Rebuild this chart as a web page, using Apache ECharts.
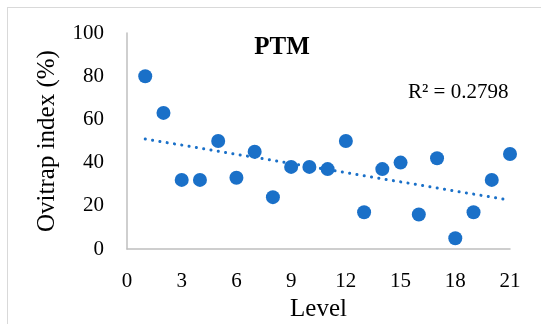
<!DOCTYPE html>
<html><head><meta charset="utf-8">
<script src="https://cdn.jsdelivr.net/npm/echarts@6/dist/echarts.min.js"></script>
<style>
html,body{margin:0;padding:0;background:#fff;}
#frame{position:absolute;left:7px;top:7px;width:560px;height:340px;border:1px solid #d9d9d9;box-sizing:border-box;}
#c{position:absolute;left:0;top:0;width:541px;height:324px;}
</style></head>
<body>
<div id="frame"></div>
<div id="c"></div>
<script>
const levels = [1,2,3,4,5,6,7,8,9,10,11,12,13,14,15,16,17,18,19,20,21];
const ovitrap = [80,63,32,32,50,33,45,24,38,38,37,50,17,37,40,16,42,5,17,32,44];
const xTicks = [0,3,6,9,12,15,18,21];
const yTicks = [0,20,40,60,80,100];
const titleText = 'PTM';
const r2Text = 'R² = 0.2798';

const n = levels.length;
const mx = levels.reduce((a,b)=>a+b,0)/n;
const my = ovitrap.reduce((a,b)=>a+b,0)/n;
let sxy=0,sxx=0;
for(let i=0;i<n;i++){sxy+=(levels[i]-mx)*(ovitrap[i]-my);sxx+=(levels[i]-mx)**2;}
const slope=sxy/sxx, icpt=my-slope*mx;
const x0=levels[0], x1=levels[n-1];
const trend=[[x0,icpt+slope*x0],[x1,icpt+slope*x1]];

const serif = '"Liberation Serif",serif';
const chart = echarts.init(document.getElementById('c'));
chart.setOption({
  animation:false,
  backgroundColor:'transparent',
  grid:{left:127,right:31,top:33,bottom:75,containLabel:false,outerBoundsMode:'none'},
  title:{text:titleText,left:277,top:30,textAlign:'center',
    textStyle:{fontFamily:serif,fontWeight:'bold',fontSize:25,color:'#000'}},
  graphic:[{type:'text',left:408,top:82,style:{text:r2Text,font:'21px "Liberation Serif", serif',fill:'#000'}}],
  xAxis:{type:'value',min:0,max:21,interval:3,
    name:'Level',nameLocation:'middle',nameGap:44,
    nameTextStyle:{fontFamily:serif,fontSize:25,color:'#000'},
    axisLine:{show:true,lineStyle:{color:'#bfbfbf',width:1.5}},
    axisTick:{show:false},splitLine:{show:false},
    axisLabel:{fontFamily:serif,fontSize:21,color:'#000',margin:22,
      formatter:v=>xTicks.includes(v)?String(v):''}},
  yAxis:{type:'value',min:0,max:100,interval:20,
    name:'Ovitrap index (%)',nameLocation:'middle',nameGap:67,
    nameTextStyle:{fontFamily:serif,fontSize:25,color:'#000'},
    axisLine:{show:true,lineStyle:{color:'#bfbfbf',width:1.5}},
    axisTick:{show:false},splitLine:{show:false},
    axisLabel:{fontFamily:serif,fontSize:21,color:'#000',margin:23,
      formatter:v=>yTicks.includes(v)?String(v):''}},
  series:[
    {type:'line',data:trend,symbol:'none',silent:true,
      lineStyle:{color:'#1a70c8',width:3,type:[0.1,7.3],cap:'round'},z:1},
    {type:'scatter',data:levels.map((x,i)=>[x,ovitrap[i]]),symbolSize:14,
      itemStyle:{color:'#1a70c8',opacity:1},z:2}
  ]
});
</script>
</body></html>
